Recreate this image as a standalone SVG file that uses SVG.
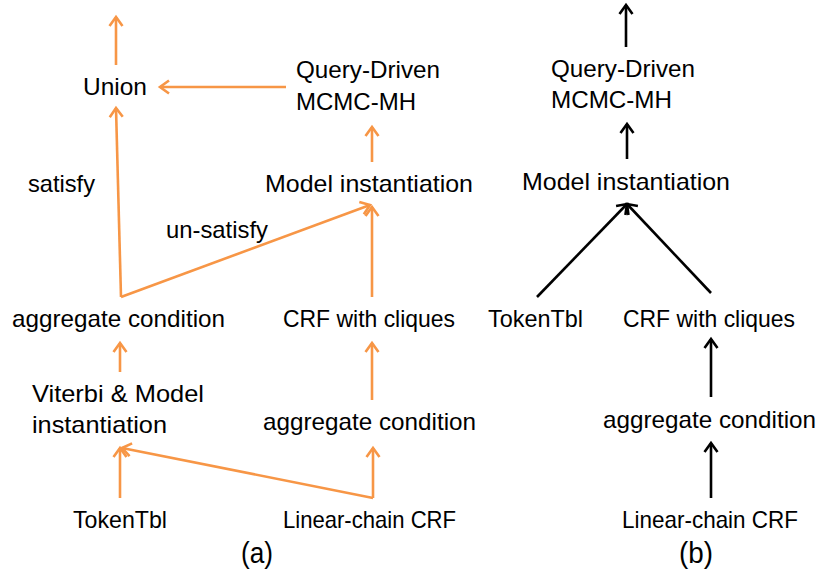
<svg xmlns="http://www.w3.org/2000/svg" width="819" height="581" viewBox="0 0 819 581">
  <defs>
    <style>
      .lbl { font-family: "Liberation Sans", Arial, sans-serif; font-size: 24px; fill: #000; }
      .cap { font-family: "Liberation Sans", Arial, sans-serif; font-size: 29px; fill: #000; }
      .or { stroke: #F79646; stroke-width: 2.6; fill: none; }
      .bk { stroke: #000; stroke-width: 2.6; fill: none; }
    </style>
    <marker id="headOr" markerUnits="userSpaceOnUse" markerWidth="20" markerHeight="20" viewBox="-12 -10 14 20" refX="0" refY="0" orient="auto">
      <path d="M-9,-6.5 L0,0 L-9,6.5" fill="none" stroke="#F79646" stroke-width="2.6" stroke-linejoin="miter"/>
    </marker>
    <marker id="headBk" markerUnits="userSpaceOnUse" markerWidth="20" markerHeight="20" viewBox="-12 -10 14 20" refX="0" refY="0" orient="auto">
      <path d="M-9,-6.5 L0,0 L-9,6.5" fill="none" stroke="#000" stroke-width="2.6" stroke-linejoin="miter"/>
    </marker>
  </defs>
  <rect width="819" height="581" fill="#fff"/>

  <!-- Panel (a): orange pipeline -->
  <g id="connectors-a">
    <line class="or" x1="116" y1="65" x2="116" y2="17" marker-end="url(#headOr)"/>
    <line class="or" x1="286" y1="87" x2="160" y2="87" marker-end="url(#headOr)"/>
    <line class="or" x1="372" y1="162" x2="372" y2="127" marker-end="url(#headOr)"/>
    <line class="or" x1="121" y1="297" x2="116" y2="108" marker-end="url(#headOr)"/>
    <line class="or" x1="121" y1="297" x2="370" y2="205" marker-end="url(#headOr)"/>
    <line class="or" x1="372" y1="297" x2="372" y2="207" marker-end="url(#headOr)"/>
    <line class="or" x1="120" y1="372" x2="120" y2="343" marker-end="url(#headOr)"/>
    <line class="or" x1="372" y1="400" x2="372" y2="343" marker-end="url(#headOr)"/>
    <line class="or" x1="120" y1="498" x2="120" y2="448" marker-end="url(#headOr)"/>
    <line class="or" x1="373" y1="498" x2="122" y2="448" marker-end="url(#headOr)"/>
    <line class="or" x1="373" y1="498" x2="373" y2="448" marker-end="url(#headOr)"/>
  </g>

  <g id="a-union"><text class="lbl" x="83" y="95" textLength="64" lengthAdjust="spacingAndGlyphs">Union</text></g>
  <g id="a-mcmc">
    <text class="lbl" x="296" y="78" textLength="144" lengthAdjust="spacingAndGlyphs">Query-Driven</text>
    <text class="lbl" x="296" y="110" textLength="120" lengthAdjust="spacingAndGlyphs">MCMC-MH</text>
  </g>
  <g id="a-model"><text class="lbl" x="265" y="192" textLength="208" lengthAdjust="spacingAndGlyphs">Model instantiation</text></g>
  <g id="a-satisfy"><text class="lbl" x="28" y="192" textLength="67" lengthAdjust="spacingAndGlyphs">satisfy</text></g>
  <g id="a-unsatisfy"><text class="lbl" x="166" y="238" textLength="102" lengthAdjust="spacingAndGlyphs">un-satisfy</text></g>
  <g id="a-agg-left"><text class="lbl" x="12" y="327" textLength="213" lengthAdjust="spacingAndGlyphs">aggregate condition</text></g>
  <g id="a-crf-cliques"><text class="lbl" x="283" y="327" textLength="172" lengthAdjust="spacingAndGlyphs">CRF with cliques</text></g>
  <g id="a-viterbi">
    <text class="lbl" x="32" y="402" textLength="172" lengthAdjust="spacingAndGlyphs">Viterbi &amp; Model</text>
    <text class="lbl" x="32" y="433" textLength="135" lengthAdjust="spacingAndGlyphs">instantiation</text>
  </g>
  <g id="a-agg-right"><text class="lbl" x="263" y="430" textLength="213" lengthAdjust="spacingAndGlyphs">aggregate condition</text></g>
  <g id="a-tokentbl"><text class="lbl" x="73" y="528" textLength="94" lengthAdjust="spacingAndGlyphs">TokenTbl</text></g>
  <g id="a-linear"><text class="lbl" x="283" y="528" textLength="173" lengthAdjust="spacingAndGlyphs">Linear-chain CRF</text></g>
  <text class="cap" x="241" y="563" textLength="32" lengthAdjust="spacingAndGlyphs">(a)</text>

  <!-- Panel (b): black pipeline -->
  <g id="connectors-b">
    <line class="bk" x1="626" y1="47" x2="626" y2="5" marker-end="url(#headBk)"/>
    <line class="bk" x1="627" y1="159" x2="627" y2="124" marker-end="url(#headBk)"/>
    <line class="bk" x1="537" y1="297" x2="627" y2="204" marker-end="url(#headBk)"/>
    <line class="bk" x1="711" y1="293" x2="627" y2="204" marker-end="url(#headBk)"/>
    <line class="bk" x1="711" y1="397" x2="711" y2="339" marker-end="url(#headBk)"/>
    <line class="bk" x1="711" y1="498" x2="711" y2="443" marker-end="url(#headBk)"/>
  </g>

  <g id="b-mcmc">
    <text class="lbl" x="551" y="77" textLength="144" lengthAdjust="spacingAndGlyphs">Query-Driven</text>
    <text class="lbl" x="551" y="108" textLength="121" lengthAdjust="spacingAndGlyphs">MCMC-MH</text>
  </g>
  <g id="b-model"><text class="lbl" x="522" y="190" textLength="208" lengthAdjust="spacingAndGlyphs">Model instantiation</text></g>
  <g id="b-tokentbl"><text class="lbl" x="488" y="327" textLength="95" lengthAdjust="spacingAndGlyphs">TokenTbl</text></g>
  <g id="b-crf-cliques"><text class="lbl" x="623" y="327" textLength="172" lengthAdjust="spacingAndGlyphs">CRF with cliques</text></g>
  <g id="b-agg"><text class="lbl" x="603" y="428" textLength="213" lengthAdjust="spacingAndGlyphs">aggregate condition</text></g>
  <g id="b-linear"><text class="lbl" x="622" y="528" textLength="176" lengthAdjust="spacingAndGlyphs">Linear-chain CRF</text></g>
  <text class="cap" x="679" y="563" textLength="34" lengthAdjust="spacingAndGlyphs">(b)</text>
</svg>
